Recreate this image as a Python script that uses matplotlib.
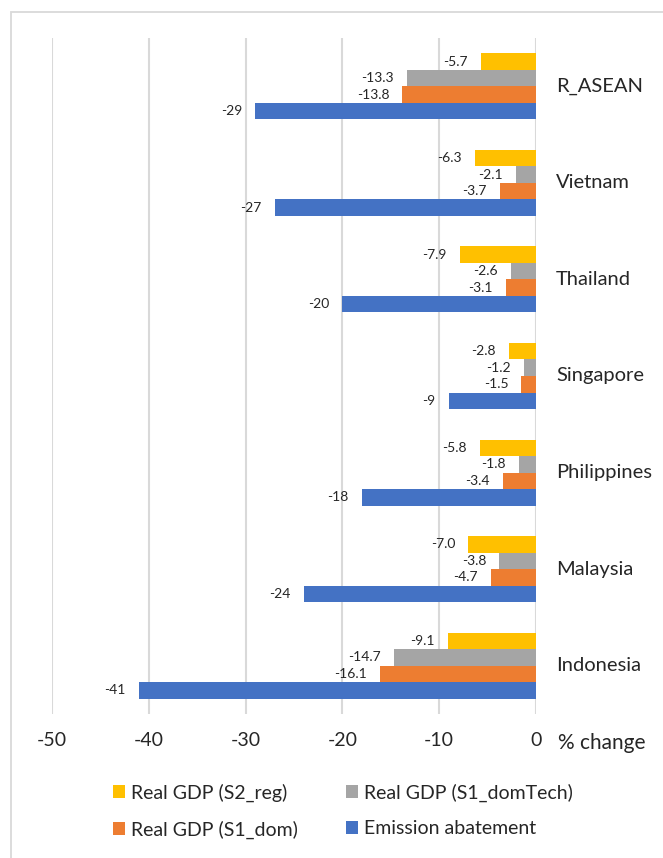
import matplotlib
matplotlib.use("Agg")
import matplotlib.pyplot as plt
from matplotlib.patches import Rectangle, Patch
import numpy as np

plt.rcParams["font.family"] = ["Lato", "DejaVu Sans"]

# Regions listed bottom-to-top along the y axis
regions = ["Indonesia", "Malaysia", "Philippines", "Singapore", "Thailand", "Vietnam", "R_ASEAN"]

emission_abatement = [-41, -24, -18, -9, -20, -27, -29]
gdp_s1_dom = [-16.1, -4.7, -3.4, -1.5, -3.1, -3.7, -13.8]
gdp_s1_domtech = [-14.7, -3.8, -1.8, -1.2, -2.6, -2.1, -13.3]
gdp_s2_reg = [-9.1, -7.0, -5.8, -2.8, -7.9, -6.3, -5.7]

series_names = ["Real GDP (S2_reg)", "Real GDP (S1_domTech)", "Real GDP (S1_dom)", "Emission abatement"]
xticks = [-50, -40, -30, -20, -10, 0]
axis_title = "% change"

colors = ["#FFC000", "#A5A5A5", "#ED7D31", "#4472C4"]
label_fmt = ["{:.1f}", "{:.1f}", "{:.1f}", "{:.0f}"]
text_color = "#262626"

W, H = 663, 858
fig = plt.figure(figsize=(W / 100, H / 100), dpi=100)

# outer chart frame (light grey)
fig.patches.append(Rectangle((11 / W, -0.05), 1.2, 1 - 12 / H + 0.05,
                             transform=fig.transFigure, fill=False,
                             edgecolor="#D9D9D9", linewidth=1.3, zorder=0))

x_left, x_zero = 52, 536
y_top, y_bot = 38, 714
ax = fig.add_axes([x_left / W, 1 - y_bot / H, (x_zero - x_left) / W, (y_bot - y_top) / H])

y = np.arange(len(regions))
h = 0.171
offsets = [1.5 * h, 0.5 * h, -0.5 * h, -1.5 * h]
all_series = [gdp_s2_reg, gdp_s1_domtech, gdp_s1_dom, emission_abatement]

for vals, off, col, fmt in zip(all_series, offsets, colors, label_fmt):
    ax.barh(y + off, vals, height=h, color=col, zorder=3)
    for yi, v in zip(y, vals):
        ax.annotate(fmt.format(v), xy=(v, yi + off), xytext=(-9.5, 0),
                    textcoords="offset points", ha="right", va="center",
                    fontsize=10, color=text_color, zorder=4)

ax.set_xlim(-50, 0)
ax.set_ylim(-0.5, len(regions) - 0.5)
ax.set_xticks(xticks)
ax.set_xticklabels([str(t) for t in xticks])
ax.set_yticks([])
ax.tick_params(axis="x", length=0, pad=13, labelsize=14, labelcolor=text_color)
ax.grid(axis="x", color="#D9D9D9", linewidth=1.5, zorder=0)
for s in ax.spines.values():
    s.set_visible(False)

# region names to the right of the zero line
for yi, name in zip(y, regions):
    ax.annotate(name, xy=(0, yi), xytext=(14.5, 0), textcoords="offset points",
                ha="left", va="center", fontsize=14.5, color=text_color)

fig.text(558 / W, 1 - 743 / H, axis_title, ha="left", va="center",
         fontsize=15, color=text_color)

# legend filled column by column, so order entries to read row by row
order = [0, 2, 1, 3]
handles = [Patch(facecolor=colors[i], edgecolor="none") for i in order]
labels = [series_names[i] for i in order]
fig.legend(handles, labels, ncol=2, loc="center",
           bbox_to_anchor=(343 / W, 1 - 811 / H), frameon=False,
           fontsize=14, handlelength=0.62, handleheight=0.62,
           handletextpad=0.3, columnspacing=2.5, labelspacing=0.95,
           labelcolor=text_color)

fig.savefig("out.png", dpi=100)
